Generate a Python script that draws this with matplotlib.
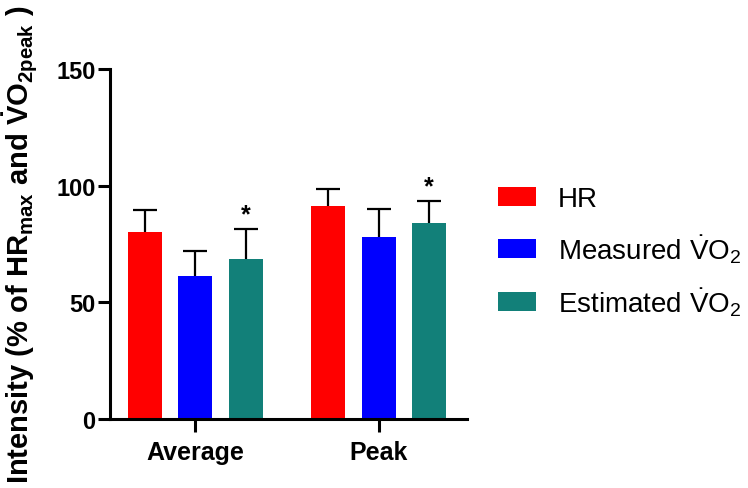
import matplotlib

matplotlib.use("Agg")
import matplotlib.pyplot as plt
import numpy as np

plt.rcParams["font.family"] = ["Liberation Sans", "DejaVu Sans"]
plt.rcParams["mathtext.fontset"] = "custom"
plt.rcParams["mathtext.rm"] = "Liberation Sans"
plt.rcParams["mathtext.it"] = "Liberation Sans:italic"
plt.rcParams["mathtext.bf"] = "Liberation Sans:bold"

# --- data --------------------------------------------------------------
groups = ["Average", "Peak"]
series = ["HR", r"Measured $\dot{\mathrm{V}}\mathrm{O}_2$", r"Estimated $\dot{\mathrm{V}}\mathrm{O}_2$"]
means = {
    "HR": [80.0, 91.5],
    "Measured": [61.5, 78.0],
    "Estimated": [68.5, 84.0],
}
sds = {
    "HR": [9.5, 7.0],
    "Measured": [10.5, 12.0],
    "Estimated": [13.0, 9.5],
}
significant = {"Estimated": [True, True]}
colors = ["#ff0000", "#0000ff", "#128079"]

# --- plot ----------------------------------------------------------------
fig = plt.figure(figsize=(7.48, 4.89), dpi=100)
ax = fig.add_axes([110 / 748, 69 / 489, 357 / 748, 350 / 489])

x = np.arange(len(groups))
pitch, width = 0.2755, 0.186
for i, (key, label) in enumerate(zip(means, series)):
    xs = x + (i - 1) * pitch
    m = np.array(means[key])
    s = np.array(sds[key])
    ax.bar(xs, m, width, color=colors[i], label=label, zorder=2)
    ax.errorbar(xs, m, yerr=[np.zeros_like(s), s], fmt="none", ecolor="black",
                elinewidth=1.6, capsize=0, zorder=3)
    ax.plot(xs, m + s, ls="none", marker="_", ms=17, mew=1.6, color="black", zorder=3)
    for xi, top, flag in zip(xs, m + s, significant.get(key, [False] * len(xs))):
        if flag:
            ax.text(xi, top + 1.0, "*", ha="center", va="bottom",
                    fontsize=18, fontweight="bold")

ax.set_xlim(-0.464, 1.482)
ax.set_ylim(0, 150)
ax.set_yticks([0, 50, 100, 150])
ax.set_xticks(x, groups)
for side in ("top", "right"):
    ax.spines[side].set_visible(False)
for side in ("left", "bottom"):
    ax.spines[side].set_linewidth(2.2)
ax.tick_params(axis="both", length=9, width=2.2)
ax.tick_params(axis="y", labelsize=17, pad=1.5)
ax.tick_params(axis="x", labelsize=18, pad=6)
for lbl in ax.get_xticklabels() + ax.get_yticklabels():
    lbl.set_fontweight("bold")

ax.set_ylabel(r"Intensity (% of HR$_{\mathbf{max}}$ and $\mathbf{\dot{V}O_{2peak}}$ )",
              fontsize=21, fontweight="bold")
ax.yaxis.set_label_coords(-0.196, 0.5)

ax.legend(loc="center left", bbox_to_anchor=(498 / 748, 1 - 253 / 489),
          bbox_transform=fig.transFigure, frameon=False, fontsize=20,
          handlelength=1.35, handleheight=0.68, handletextpad=0.8,
          labelspacing=0.72, borderpad=0, borderaxespad=0)

fig.savefig("out.png", dpi=100)
